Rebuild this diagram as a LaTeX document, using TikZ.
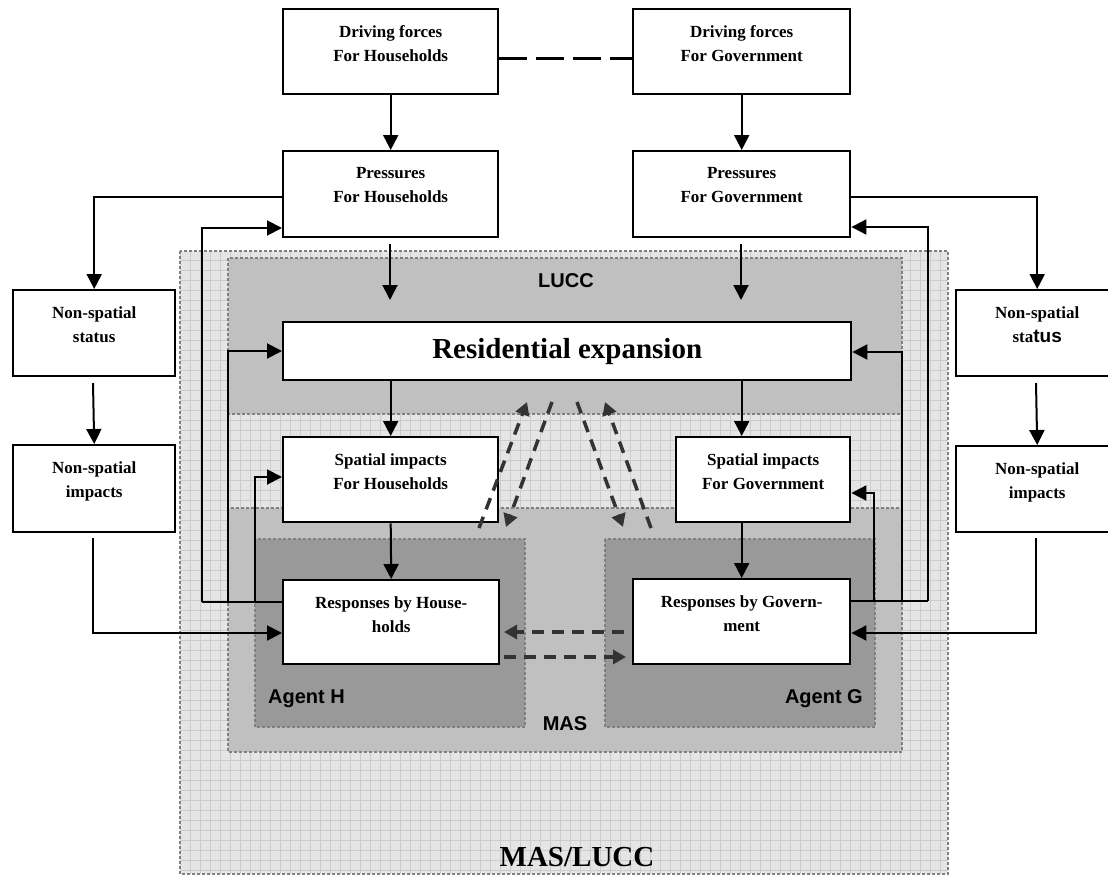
\documentclass[tikz,border=0pt]{standalone}
\usepackage{fontspec}
\setmainfont{Liberation Serif}
\setsansfont{Liberation Sans}
\usetikzlibrary{arrows.meta}

\definecolor{outerfill}{HTML}{E5E5E5}
\definecolor{gridc}{HTML}{CCCCCC}
\definecolor{midfill}{HTML}{C0C0C0}
\definecolor{agentfill}{HTML}{999999}
\definecolor{dotgray}{HTML}{808080}
\definecolor{dashgray}{HTML}{333333}

\begin{document}
\begin{tikzpicture}[x=1pt,y=-1pt,
  box/.style={draw=black, line width=2.4pt, fill=white, inner sep=0pt, rectangle, anchor=north west},
  btext/.style={font=\bfseries\fontsize{17}{24}\selectfont, align=center, inner sep=0pt, anchor=north},
  conn/.style={draw=black, line width=2pt},
  arr/.style={conn, -{Triangle[length=15pt,width=15pt]}},
  darr/.style={draw=dashgray, line width=3.5pt, dash pattern=on 12pt off 8pt, -{Triangle[length=13pt,width=14pt]}},
  region/.style={draw=dotgray, line width=2.8pt, dash pattern=on 2.8pt off 2.2pt},
  rlabel/.style={font=\sffamily\bfseries\fontsize{20}{24}\selectfont, inner sep=0pt},
]
\useasboundingbox (0,0) rectangle (1108,876);
\clip (0,0) rectangle (1108,876);

% ---------- nested regions ----------
\fill[outerfill] (180,251) rectangle (948,874);
\draw[gridc, line width=0.7pt, step=10pt] (180,874) grid (948,251);
\draw[region] (180,251) rectangle (948,874);
\filldraw[region, fill=midfill] (228,258) rectangle (902,414);
\filldraw[region, fill=midfill] (228,508) rectangle (902,752);
\filldraw[region, fill=agentfill] (255,539) rectangle (525,727);
\filldraw[region, fill=agentfill] (605,539) rectangle (875,727);

\node[rlabel] (lbllucc) at (566,281) {LUCC};
\node[rlabel] (lblmas) at (565,724) {MAS};
\node[rlabel, anchor=west] (lblah) at (268,699) {Agent H};
\node[rlabel, anchor=east] (lblag) at (863,699) {Agent G};
\node[font=\bfseries\fontsize{29}{34}\selectfont, inner sep=0pt] (lblmaslucc) at (577,857) {MAS/LUCC};

% ---------- boxes ----------
\node[box, minimum width=215pt, minimum height=85pt] (dfh) at (282,8) {};
\node[box, minimum width=217pt, minimum height=85pt] (dfg) at (632,8) {};
\node[box, minimum width=215pt, minimum height=86pt] (prh) at (282,150) {};
\node[box, minimum width=217pt, minimum height=86pt] (prg) at (632,150) {};
\node[box, minimum width=162pt, minimum height=86pt] (nsl) at (12,289) {};
\node[box, minimum width=162pt, minimum height=87pt] (nil) at (12,444) {};
\node[box, minimum width=162pt, minimum height=86pt] (nsr) at (955,289) {};
\node[box, minimum width=162pt, minimum height=86pt] (nir) at (955,445) {};
\node[box, minimum width=568pt, minimum height=58pt] (res) at (282,321) {};
\node[box, minimum width=215pt, minimum height=85pt] (sih) at (282,436) {};
\node[box, minimum width=174pt, minimum height=85pt] (sig) at (675,436) {};
\node[box, minimum width=216pt, minimum height=84pt] (rph) at (282,579) {};
\node[box, minimum width=217pt, minimum height=85pt] (rpg) at (632,578) {};

\node[btext] (tdfh) at ([yshift=-17pt]dfh.north) {Driving forces\\For Households};
\node[btext] (tdfg) at ([yshift=-17pt]dfg.north) {Driving forces\\For Government};
\node[btext] (tprh) at ([yshift=-17pt]prh.north) {Pressures\\For Households};
\node[btext] (tprg) at ([yshift=-17pt]prg.north) {Pressures\\For Government};
\node[btext] (tnsl) at ([yshift=-17pt]nsl.north) {Non-spatial\\status};
\node[btext] (tnil) at ([yshift=-17pt]nil.north) {Non-spatial\\impacts};
\node[btext] (tnsr) at ([yshift=-17pt]nsr.north) {Non-spatial\\sta{\sffamily\fontsize{19}{24}\selectfont tus}};
\node[btext] (tnir) at ([yshift=-17pt]nir.north) {Non-spatial\\impacts};
\node[font=\bfseries\fontsize{29}{34}\selectfont, inner sep=0pt] (tres) at (res.center) {Residential expansion};
\node[btext] (tsih) at ([yshift=-17pt]sih.north) {Spatial impacts\\For Households};
\node[btext] (tsig) at ([yshift=-17pt]sig.north) {Spatial impacts\\For Government};
\node[btext] (trph) at ([yshift=-17pt]rph.north) {Responses by House-\\holds};
\node[btext] (trpg) at ([yshift=-17pt]rpg.north) {Responses by Govern-\\ment};

% ---------- connector end and bend points ----------
\coordinate (phs) at (390,244);  \coordinate (phe) at (390,300);
\coordinate (pgs) at (741,244);  \coordinate (pge) at (741,300);
\coordinate (nl0) at (93,383);   \coordinate (nr0) at (1036,383);
\coordinate (nl1) at (93,538);   \coordinate (nl2) at (93,633);
\coordinate (nr1) at (1036,538); \coordinate (nr2) at (1036,633);
\coordinate (hb1) at (202,602);  \coordinate (ht1) at (202,228);
\coordinate (hb2) at (228,602);  \coordinate (ht2) at (228,351);
\coordinate (hb3) at (255,602);  \coordinate (ht3) at (255,477);
\coordinate (gb1) at (928,601);  \coordinate (gt1) at (928,227);
\coordinate (gb2) at (902,601);  \coordinate (gt2) at (902,352);
\coordinate (gb3) at (874,601);  \coordinate (gt3) at (874,493);
\coordinate (d1s) at (479,528);  \coordinate (d1e) at (527,402);
\coordinate (d2s) at (552,402);  \coordinate (d2e) at (506,527);
\coordinate (d3s) at (577,402);  \coordinate (d3e) at (623,527);
\coordinate (d4s) at (651,528);  \coordinate (d4e) at (605,402);
\coordinate (h1s) at (624,632);  \coordinate (h1e) at (504,632);
\coordinate (h2s) at (504,657);  \coordinate (h2e) at (626,657);

% ---------- connectors ----------
\draw[line width=3pt, dash pattern=on 28pt off 9pt] ([yshift=-7pt]dfh.east) -- ([yshift=-7pt]dfg.west);
\draw[arr] (dfh.south) -- (prh.north);
\draw[arr] (dfg.south) -- (prg.north);
\draw[arr] (phs) -- (phe);
\draw[arr] (pgs) -- (pge);
\draw[arr] ([yshift=-3pt]prh.west) -| (nsl.north);
\draw[arr] ([yshift=-3pt]prg.east) -| (nsr.north);
\draw[arr] (nl0) -- (nil.north);
\draw[arr] (nr0) -- (nir.north);
\draw[arr] (nl1) -- (nl2) -- (nl2 -| rph.west);
\draw[arr] (nr1) -- (nr2) -- (nr2 -| rpg.east);
\draw[arr] (sih.north |- res.south) -- (sih.north);
\draw[arr] (rpg.north |- res.south) -- (rpg.north |- sig.north);
\draw[arr] (sih.south) -- (rph.north);
\draw[arr] (rpg.north |- sig.south) -- (rpg.north);

% feedback from the household responses
\draw[conn] (hb1 -| rph.west) -- (hb1);
\draw[arr] (hb1) -- (ht1) -- (ht1 -| prh.west);
\draw[arr] (hb2) -- (ht2) -- (ht2 -| res.west);
\draw[arr] (hb3) -- (ht3) -- (ht3 -| sih.west);

% feedback from the government responses
\draw[conn] (gb1 -| rpg.east) -- (gb1);
\draw[arr] (gb1) -- (gt1) -- (gt1 -| prg.east);
\draw[arr] (gb2) -- (gt2) -- (gt2 -| res.east);
\draw[arr] (gb3) -- (gt3) -- (gt3 -| sig.east);

% agent interactions
\draw[darr] (d1s) -- (d1e);
\draw[darr] (d2s) -- (d2e);
\draw[darr] (d3s) -- (d3e);
\draw[darr] (d4s) -- (d4e);
\draw[darr] (h1s) -- (h1e);
\draw[darr] (h2s) -- (h2e);
\end{tikzpicture}
\end{document}
